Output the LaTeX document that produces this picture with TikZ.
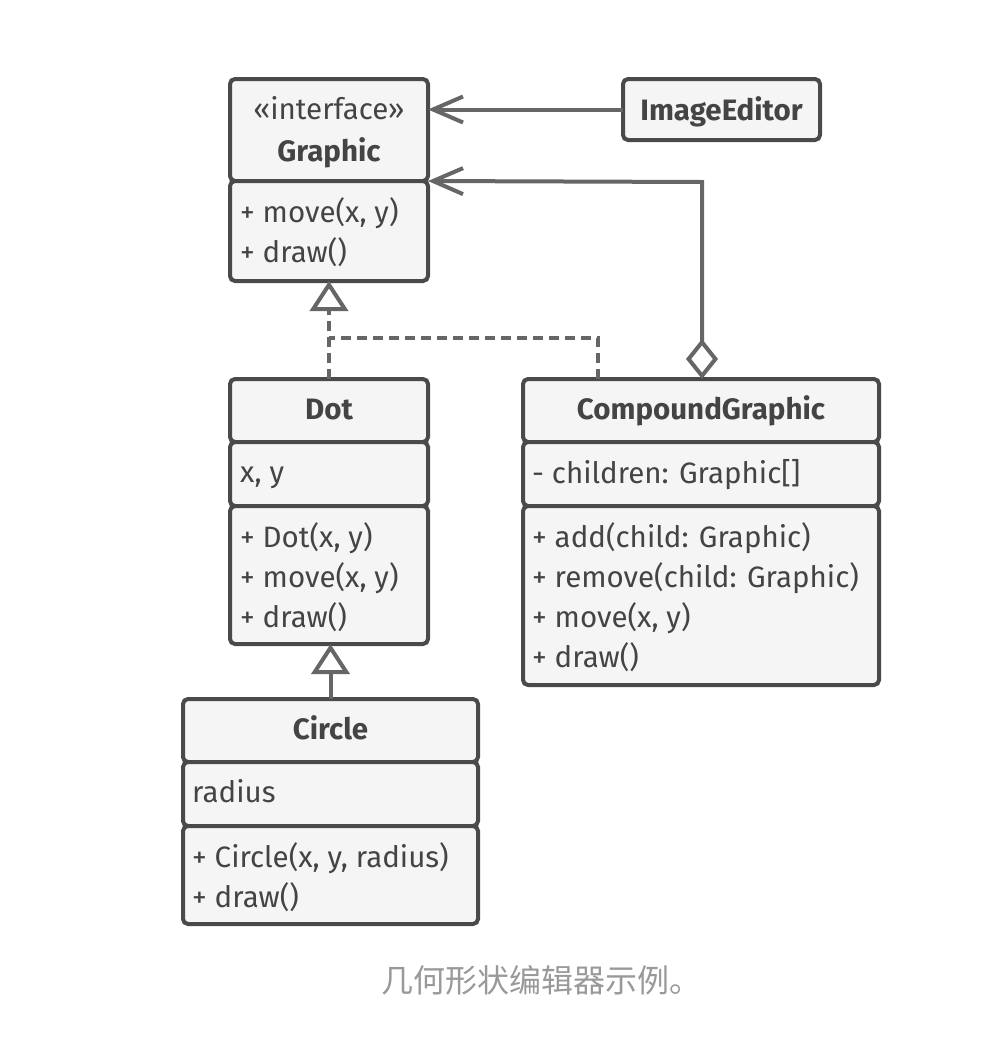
\documentclass[tikz,border=0pt]{standalone}
\usepackage{fontspec}
\setmainfont{Fira Sans}
\newfontfamily\cjk{Noto Sans CJK SC}
\usetikzlibrary{arrows.meta}
\definecolor{boxline}{HTML}{4A4A4A}
\definecolor{boxfill}{HTML}{F5F5F5}
\definecolor{txtc}{HTML}{444444}
\definecolor{connc}{HTML}{666666}
\definecolor{capc}{HTML}{999999}
\begin{document}
\begin{tikzpicture}[x=1pt,y=-1pt,
  part/.style={draw=boxline, fill=boxfill, line width=4pt, rounded corners=5pt, inner sep=0pt, outer sep=0pt},
  lbl/.style={text=txtc, font=\fontsize{29.5}{36}\selectfont, inner sep=0pt, anchor=base west},
  ttl/.style={text=txtc, font=\fontsize{29.5}{36}\selectfont\bfseries, inner sep=0pt, anchor=base},
  stereo/.style={text=txtc, font=\fontsize{29.5}{36}\selectfont, inner sep=0pt, anchor=base},
  conn/.style={draw=connc, line width=4pt},
  dashline/.style={conn, dash pattern=on 10pt off 6pt},
  barb/.style={-{Straight Barb[length=30pt,width=26pt]}},
  hollowtri/.style={-{Triangle[fill=white,length=30pt,width=38pt]}},
  caption/.style={text=capc, font=\cjk\fontsize{32}{38}\selectfont, inner sep=0pt, anchor=base}
]
\useasboundingbox (0,0) rectangle (1006,1058);

% Graphic
\node[part, minimum width=198pt, minimum height=102pt] (gA) at (329,130) {};
\node[part, minimum width=198pt, minimum height=100pt] (gB) at (329,231) {};
\node[stereo] (gT0) at (329,119) {«interface»};
\node[ttl] (gT1) at (329,161) {Graphic};
\node[lbl] (gM1) at (240,222) {+ move(x, y)};
\node[lbl] (gM2) at (240,262) {+ draw()};

% ImageEditor
\node[part, minimum width=197pt, minimum height=61pt] (ie) at (721.5,109.5) {};
\node[ttl] (ieT) at (721.5,120) {ImageEditor};

% Dot
\node[part, minimum width=198pt, minimum height=63pt] (dA) at (329,410.5) {};
\node[part, minimum width=198pt, minimum height=64pt] (dB) at (329,474) {};
\node[part, minimum width=198pt, minimum height=138pt] (dC) at (329,575) {};
\node[ttl] (dT) at (329,419) {Dot};
\node[lbl] (dF1) at (240,482) {x, y};
\node[lbl] (dM1) at (240,547) {+ Dot(x, y)};
\node[lbl] (dM2) at (240,587) {+ move(x, y)};
\node[lbl] (dM3) at (240,627) {+ draw()};

% CompoundGraphic
\node[part, minimum width=356pt, minimum height=63pt] (cgA) at (701,410.5) {};
\node[part, minimum width=356pt, minimum height=64pt] (cgB) at (701,474) {};
\node[part, minimum width=356pt, minimum height=179pt] (cgC) at (701,595.5) {};
\node[ttl] (cgT) at (701,419) {CompoundGraphic};
\node[lbl] (cgF1) at (532,483) {- children: Graphic[]};
\node[lbl] (cgM1) at (532,547) {+ add(child: Graphic)};
\node[lbl] (cgM2) at (532,587) {+ remove(child: Graphic)};
\node[lbl] (cgM3) at (532,627) {+ move(x, y)};
\node[lbl] (cgM4) at (532,667) {+ draw()};

% Circle
\node[part, minimum width=295pt, minimum height=63pt] (cA) at (330.5,730.5) {};
\node[part, minimum width=295pt, minimum height=64pt] (cB) at (330.5,794) {};
\node[part, minimum width=295pt, minimum height=98pt] (cC) at (330.5,875) {};
\node[ttl] (cT) at (330.5,739) {Circle};
\node[lbl] (cF1) at (192,802) {radius};
\node[lbl] (cM1) at (192,867) {+ Circle(x, y, radius)};
\node[lbl] (cM2) at (192,907) {+ draw()};

% caption
\node[caption] (cap) at (541,992) {几何形状编辑器示例。};

% connectors
\coordinate (aggcorner) at (702,182);
\coordinate (realcorner) at (598,338);

\draw[conn, barb] (ie.west) -- (ie.west -| gA.east);
\draw[conn, {Diamond[fill=white,length=40pt,width=32pt]}-{Straight Barb[length=30pt,width=26pt]}]
  (aggcorner |- cgA.north) -- (aggcorner) -- (gB.north east);
\draw[dashline, hollowtri] (dA.north) -- (gB.south);
\draw[dashline] (realcorner |- cgA.north) -- (realcorner) -- (realcorner -| dA.north);
\draw[conn, hollowtri] (cA.north) -- (cA.north |- dC.south);
\end{tikzpicture}
\end{document}
